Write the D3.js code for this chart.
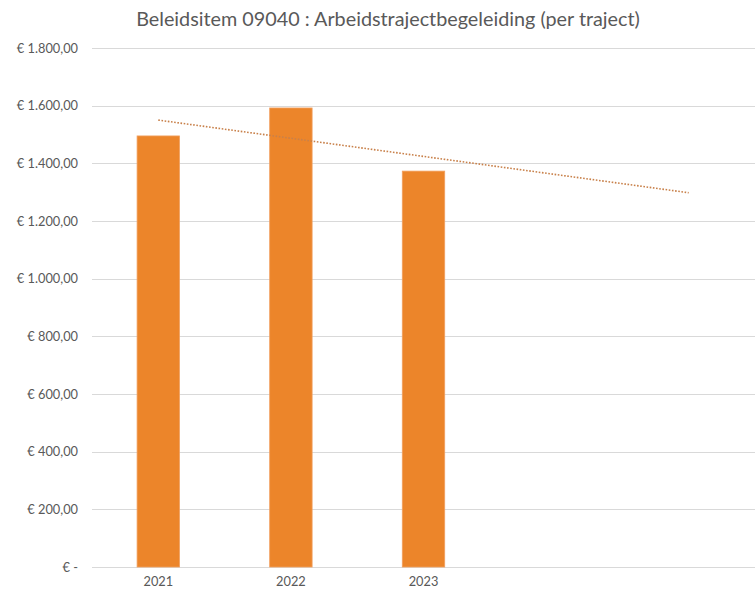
<!DOCTYPE html>
<html>
<head>
<meta charset="utf-8">
<script src="https://cdn.jsdelivr.net/npm/d3@7"></script>
<style>
  body { margin: 0; background: #fff; }
  svg { font-family: Lato, "Open Sans", sans-serif; }
</style>
</head>
<body>
<svg></svg>
<script>
const categories = ["2021", "2022", "2023", "", " "];
const values = [1495, 1592, 1373];
const yTicks = [0, 200, 400, 600, 800, 1000, 1200, 1400, 1600, 1800];
const trendValues = [1550, 1298]; // trendline read at first and last category
const title = "Beleidsitem 09040 : Arbeidstrajectbegeleiding (per traject)";

const width = 755;
const height = 593;
const margin = { top: 48, right: 0, bottom: 26, left: 92 };

const svg = d3.select("svg")
    .attr("width", width)
    .attr("height", height);

const x = d3.scaleBand()
    .domain(categories)
    .range([margin.left, width - margin.right])
    .paddingInner(0.68)
    .paddingOuter(0.34);

const y = d3.scaleLinear()
    .domain([0, 1800])
    .range([height - margin.bottom, margin.top]);

const fmt = d => d === 0 ? "€ -" :
    "€ " + d3.format(",.2f")(d).replace(/,/g, "#").replace(".", ",").replace(/#/g, ".");

// gridlines
svg.append("g")
    .selectAll("line")
    .data(yTicks)
    .enter().append("line")
    .attr("x1", margin.left)
    .attr("x2", width - margin.right)
    .attr("y1", d => Math.round(y(d)) + 0.5)
    .attr("y2", d => Math.round(y(d)) + 0.5)
    .attr("stroke", "#d9d9d9")
    .attr("stroke-width", 1);

// y axis labels
svg.append("g")
    .attr("transform", `translate(${margin.left - 11},0)`)
    .call(d3.axisLeft(y).tickValues(yTicks).tickSize(0).tickFormat(fmt))
    .call(g => g.select(".domain").remove())
    .selectAll("text")
    .attr("fill", "#595959")
    .attr("font-size", 12.8)
    .attr("font-family", "Lato, sans-serif");

// bars
svg.append("g")
    .selectAll("rect")
    .data(values)
    .enter().append("rect")
    .attr("x", (d, i) => x(categories[i]))
    .attr("y", d => y(d))
    .attr("width", x.bandwidth())
    .attr("height", d => y(0) - y(d))
    .attr("fill", "#EC852A")
    .attr("stroke", "#f1a060")
    .attr("stroke-width", 0.8);

// trendline
const trendCats = [categories[0], categories[categories.length - 1]];
svg.append("path")
    .datum(trendValues)
    .attr("d", d3.line()
        .x((d, i) => x(trendCats[i]) + x.bandwidth() / 2)
        .y(d => y(d)))
    .attr("fill", "none")
    .attr("stroke", "#c8804a")
    .attr("stroke-width", 1.6)
    .attr("stroke-dasharray", "1.6 1.6");

// x axis labels
svg.append("g")
    .attr("transform", `translate(0,${y(0)})`)
    .call(d3.axisBottom(x).tickSize(0).tickPadding(10))
    .call(g => g.select(".domain").remove())
    .selectAll("text")
    .attr("fill", "#595959")
    .attr("font-size", 12.8)
    .attr("font-family", "Lato, sans-serif");

// title
svg.append("text")
    .attr("x", 388)
    .attr("y", 26)
    .attr("text-anchor", "middle")
    .attr("fill", "#595959")
    .attr("font-size", 19.8)
    .text(title);
</script>
</body>
</html>
